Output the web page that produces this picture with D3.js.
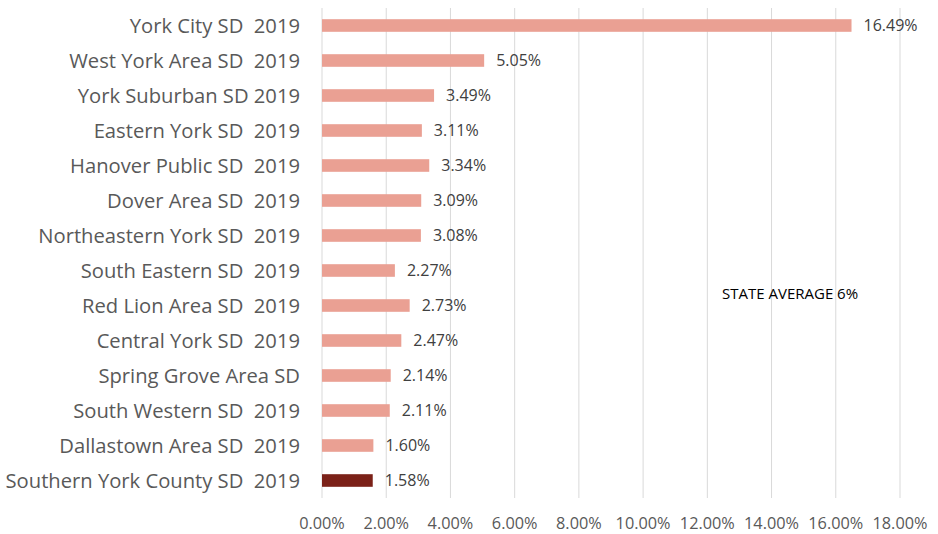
<!DOCTYPE html>
<html>
<head>
<meta charset="utf-8">
<script src="https://cdn.jsdelivr.net/npm/d3@7"></script>
<style>
  body { margin: 0; background: #fff; }
  svg text { font-family: "Open Sans", "Noto Sans", sans-serif; white-space: pre; }
</style>
</head>
<body>
<div id="chart"></div>
<script>
const districts = [
  'York City SD  2019',
  'West York Area SD  2019',
  'York Suburban SD 2019',
  'Eastern York SD  2019',
  'Hanover Public SD  2019',
  'Dover Area SD  2019',
  'Northeastern York SD  2019',
  'South Eastern SD  2019',
  'Red Lion Area SD  2019',
  'Central York SD  2019',
  'Spring Grove Area SD',
  'South Western SD  2019',
  'Dallastown Area SD  2019',
  'Southern York County SD  2019'
];
const rates = [16.49, 5.05, 3.49, 3.11, 3.34, 3.09, 3.08, 2.27, 2.73, 2.47, 2.14, 2.11, 1.60, 1.58];
const highlighted = ['Southern York County SD  2019'];
const xTicks = [0, 2, 4, 6, 8, 10, 12, 14, 16, 18];
const note = 'STATE AVERAGE 6%';

const width = 938, height = 534;
const margin = { top: 8, right: 38, bottom: 36, left: 322 };

const svg = d3.select('#chart').append('svg')
  .attr('width', width)
  .attr('height', height);

const x = d3.scaleLinear()
  .domain([0, 18])
  .range([margin.left, width - margin.right]);

const y = d3.scaleBand()
  .domain(districts)
  .range([margin.top, height - margin.bottom])
  .paddingInner(0.64)
  .paddingOuter(0.32);

// gridlines
svg.append('g')
  .selectAll('line')
  .data(xTicks)
  .enter().append('line')
  .attr('x1', d => x(d)).attr('x2', d => x(d))
  .attr('y1', margin.top).attr('y2', height - margin.bottom)
  .attr('stroke', '#d9d9d9')
  .attr('stroke-width', 1);

// x tick labels
svg.append('g')
  .selectAll('text')
  .data(xTicks)
  .enter().append('text')
  .attr('x', d => x(d))
  .attr('y', 529)
  .attr('text-anchor', 'middle')
  .attr('font-size', 16.3)
  .attr('fill', '#595959')
  .text(d => d.toFixed(2) + '%');

// bars
svg.append('g')
  .selectAll('rect')
  .data(districts)
  .enter().append('rect')
  .attr('x', x(0))
  .attr('y', d => y(d))
  .attr('width', (d, i) => x(rates[i]) - x(0))
  .attr('height', y.bandwidth())
  .attr('fill', d => highlighted.includes(d) ? '#7b2118' : '#eaa093');

// value labels
svg.append('g')
  .selectAll('text')
  .data(districts)
  .enter().append('text')
  .attr('x', (d, i) => x(rates[i]) + 12)
  .attr('y', d => y(d) + y.bandwidth() / 2)
  .attr('dy', '0.35em')
  .attr('font-size', 16)
  .attr('fill', '#404040')
  .text((d, i) => rates[i].toFixed(2) + '%');

// category labels
svg.append('g')
  .selectAll('text')
  .data(districts)
  .enter().append('text')
  .attr('x', 300)
  .attr('y', d => y(d) + y.bandwidth() / 2)
  .attr('dy', '0.35em')
  .attr('text-anchor', 'end')
  .attr('font-size', 20.2)
  .attr('fill', '#595959')
  .text(d => d);

svg.append('text')
  .attr('x', 722)
  .attr('y', 294)
  .attr('dy', '0.35em')
  .attr('font-size', 15)
  .attr('fill', '#000')
  .text(note);
</script>
</body>
</html>
